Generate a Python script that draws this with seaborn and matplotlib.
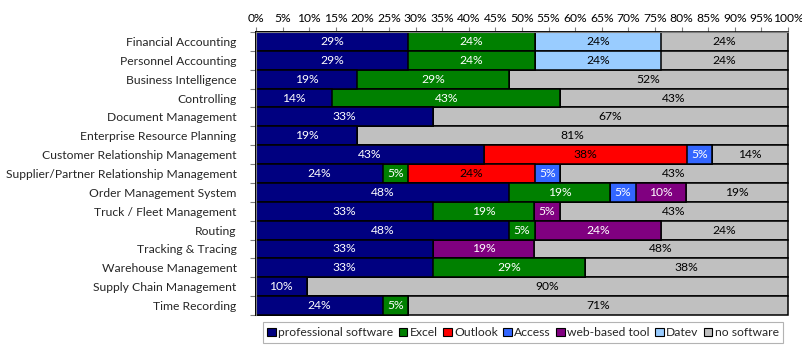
import numpy as np
import pandas as pd
import matplotlib
matplotlib.use("Agg")
import matplotlib.pyplot as plt
from matplotlib.patches import Patch
import seaborn as sns

categories = [
    "Financial Accounting", "Personnel Accounting", "Business Intelligence",
    "Controlling", "Document Management", "Enterprise Resource Planning",
    "Customer Relationship Management", "Supplier/Partner Relationship Management",
    "Order Management System", "Truck / Fleet Management", "Routing",
    "Tracking & Tracing", "Warehouse Management", "Supply Chain Management",
    "Time Recording",
]
series_names = ["professional software", "Excel", "Outlook", "Access",
                "web-based tool", "Datev", "no software"]

professional = [28.6, 28.6, 19.0, 14.3, 33.3, 19.0, 42.9, 23.8, 47.6, 33.3, 47.6, 33.3, 33.3, 9.5, 23.8]
excel        = [23.8, 23.8, 28.6, 42.9, 0, 0, 0, 4.8, 19.0, 19.0, 4.8, 0, 28.6, 0, 4.8]
outlook      = [0, 0, 0, 0, 0, 0, 38.1, 23.8, 0, 0, 0, 0, 0, 0, 0]
access       = [0, 0, 0, 0, 0, 0, 4.8, 4.8, 4.8, 0, 0, 0, 0, 0, 0]
web_based    = [0, 0, 0, 0, 0, 0, 0, 0, 9.5, 4.8, 23.8, 19.0, 0, 0, 0]
datev        = [23.8, 23.8, 0, 0, 0, 0, 0, 0, 0, 0, 0, 0, 0, 0, 0]
no_software  = [23.8, 23.8, 52.4, 42.8, 66.7, 81.0, 14.2, 42.8, 19.1, 42.9, 23.8, 47.7, 38.1, 90.5, 71.4]

x_ticklabels = [f"{v}%" for v in range(0, 101, 5)]

colors = ["#000080", "#008000", "#FF0000", "#3366FF", "#800080", "#99CCFF", "#C0C0C0"]
text_colors = ["white", "white", "black", "white", "white", "black", "black"]

series = [professional, excel, outlook, access, web_based, datev, no_software]
df = pd.DataFrame({name: vals for name, vals in zip(series_names, series)}, index=categories)
df.index.name = "category"

sns.set_theme(style="white")
plt.rcParams["font.family"] = ["Lato", "DejaVu Sans"]
FS = 8.7

fig = plt.figure(figsize=(8.02, 3.49), dpi=100)
ax = fig.add_axes([256 / 802, 1 - 315 / 349, (788 - 256) / 802, (315 - 32) / 349])

cum = df.cumsum(axis=1)
# draw cumulative bars from the last series to the first so each segment shows
for i in range(len(series_names) - 1, -1, -1):
    d = pd.DataFrame({"category": categories, "value": cum.iloc[:, i].values})
    sns.barplot(data=d, x="value", y="category", order=categories, orient="h",
                color=colors[i], saturation=1, width=1.0, edgecolor="black",
                linewidth=1.1, ax=ax, errorbar=None)
for p in ax.patches:
    p.set_clip_on(False)

# labels
for r, cat in enumerate(categories):
    left = 0.0
    for i, name in enumerate(series_names):
        v = df.loc[cat, name]
        if v > 0:
            ax.text(left + v / 2, r, f"{v:.0f}%", ha="center", va="center",
                    color=text_colors[i], fontsize=FS)
        left += v

ax.set_xlim(0, 100)
ax.set_ylim(len(categories) - 0.5, -0.5)
ax.xaxis.tick_top()
ax.set_xticks(np.arange(0, 101, 5))
ax.set_xticklabels(x_ticklabels, fontsize=FS)
ax.tick_params(axis="x", which="major", length=3.5, color="#808080", width=0.8, pad=2,
               labelcolor="black")

ax.set_yticks(np.arange(-0.5, len(categories), 1.0))
ax.set_yticklabels([""] * (len(categories) + 1))
ax.set_yticks(np.arange(len(categories)), minor=True)
ax.set_yticklabels(categories, minor=True, fontsize=FS)
ax.tick_params(axis="y", which="major", length=4, color="#808080", width=0.8, left=True)
ax.tick_params(axis="y", which="minor", length=0, pad=14, left=True)
ax.set_xlabel("")
ax.set_ylabel("")
for s in ["bottom", "right"]:
    ax.spines[s].set_visible(False)
for s in ["top", "left"]:
    ax.spines[s].set_color("#808080")
    ax.spines[s].set_linewidth(0.8)

handles = [Patch(facecolor=c, edgecolor="black", linewidth=0.8) for c in colors]
leg = fig.legend(handles, series_names, loc="center", ncol=7,
                 bbox_to_anchor=(257 / 802, 1 - 347 / 349, (789 - 257) / 802, 29 / 349),
                 frameon=True, fontsize=FS, handlelength=0.7, handleheight=0.7,
                 handletextpad=0.2, columnspacing=0.45, borderpad=0.4, borderaxespad=0.0,
                 fancybox=False)
leg.get_frame().set_edgecolor("#A0A0A0")
leg.get_frame().set_linewidth(0.8)

fig.savefig("out.png", dpi=100)
